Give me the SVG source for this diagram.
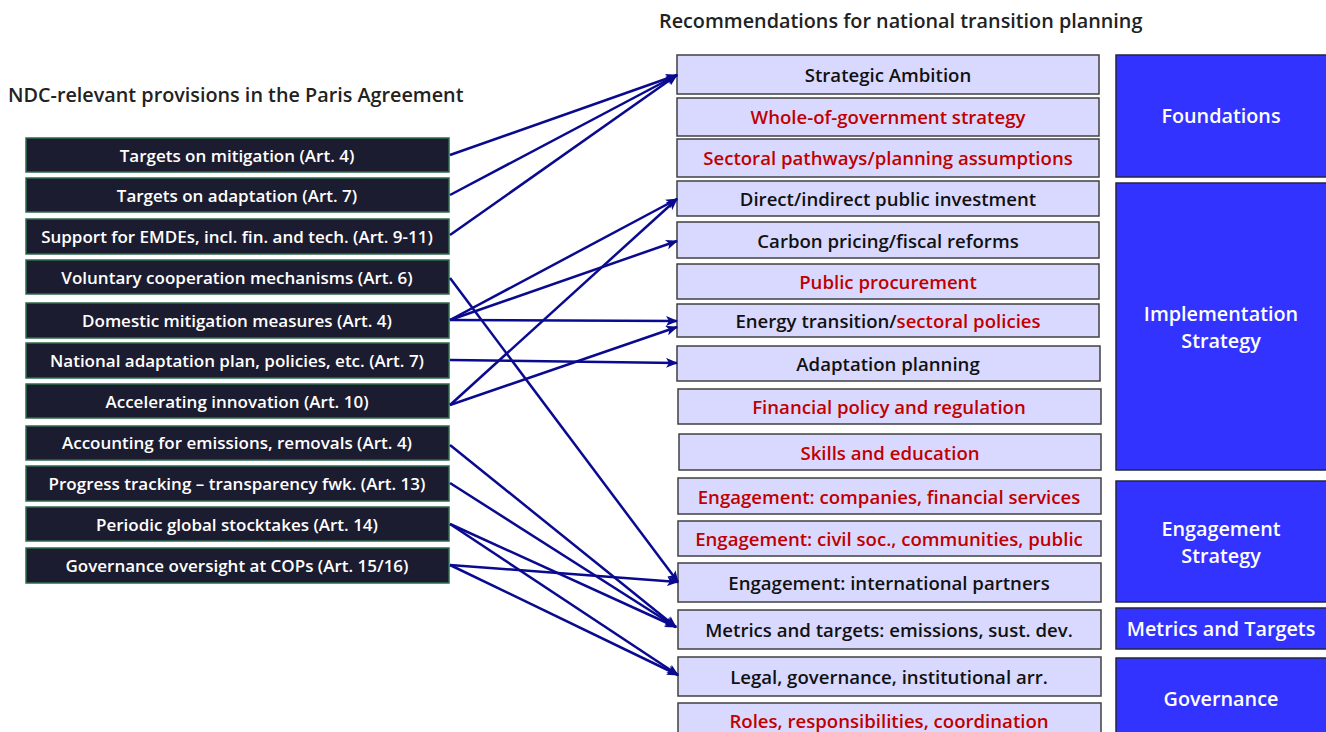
<svg xmlns="http://www.w3.org/2000/svg" width="1326" height="732" viewBox="0 0 1326 732">
<defs>
<marker id="ah" markerUnits="userSpaceOnUse" markerWidth="12" markerHeight="10" refX="11" refY="5" orient="auto">
<path d="M0,0 L12,5 L0,10 L3,5 Z" fill="#0a0a8f"/>
</marker>
<style>
text{font-family:"Open Sans","Liberation Sans",sans-serif;font-weight:600;text-anchor:middle;dominant-baseline:central}
.title{fill:#222;font-size:19.8px;text-anchor:start;dominant-baseline:auto}
.src rect{fill:#1c1c30;stroke:#2f6b4c;stroke-width:1.5}
.src text{fill:#fff;font-size:17px}
.rec rect{fill:#d9d9ff;stroke:#404040;stroke-width:1.5}
.rec text{fill:#111;font-size:18.6px}
.rec text.red,tspan.red{fill:#c00000}
.cat rect{fill:#3333ff;stroke:#262640;stroke-width:1.5}
.cat text{fill:#fff;font-size:19.8px}
#connectors line{stroke:#0a0a8f;stroke-width:2.5;marker-end:url(#ah)}
</style>
</defs>
<rect width="1326" height="732" fill="#fff"/>
<text class="title" x="8" y="102">NDC-relevant provisions in the Paris Agreement</text>
<text class="title" x="659" y="28">Recommendations for national transition planning</text>

<g id="sources">
<g id="s1" class="src"><rect x="26" y="138" width="423" height="34"/><text x="237" y="155">Targets on mitigation (Art. 4)</text></g>
<g id="s2" class="src"><rect x="26" y="178" width="423" height="34"/><text x="237" y="195">Targets on adaptation (Art. 7)</text></g>
<g id="s3" class="src"><rect x="26" y="219" width="423" height="35"/><text x="237" y="236">Support for EMDEs, incl. fin. and tech. (Art. 9-11)</text></g>
<g id="s4" class="src"><rect x="26" y="260" width="423" height="34"/><text x="237" y="277">Voluntary cooperation mechanisms (Art. 6)</text></g>
<g id="s5" class="src"><rect x="26" y="303" width="423" height="35"/><text x="237" y="320">Domestic mitigation measures (Art. 4)</text></g>
<g id="s6" class="src"><rect x="26" y="343" width="423" height="35"/><text x="237" y="360">National adaptation plan, policies, etc. (Art. 7)</text></g>
<g id="s7" class="src"><rect x="26" y="384" width="423" height="34"/><text x="237" y="401">Accelerating innovation (Art. 10)</text></g>
<g id="s8" class="src"><rect x="26" y="426" width="423" height="34"/><text x="237" y="442">Accounting for emissions, removals (Art. 4)</text></g>
<g id="s9" class="src"><rect x="26" y="466" width="423" height="35"/><text x="237" y="483">Progress tracking – transparency fwk. (Art. 13)</text></g>
<g id="s10" class="src"><rect x="26" y="507" width="423" height="34"/><text x="237" y="524">Periodic global stocktakes (Art. 14)</text></g>
<g id="s11" class="src"><rect x="26" y="548" width="423" height="35"/><text x="237" y="565">Governance oversight at COPs (Art. 15/16)</text></g>
</g>

<g id="recommendations">
<g id="r1" class="rec"><rect x="677" y="55" width="422" height="39"/><text x="888" y="74">Strategic Ambition</text></g>
<g id="r2" class="rec"><rect x="677" y="98" width="422" height="38"/><text class="red" x="888" y="116">Whole-of-government strategy</text></g>
<g id="r3" class="rec"><rect x="677" y="139" width="422" height="38"/><text class="red" x="888" y="157">Sectoral pathways/planning assumptions</text></g>
<g id="r4" class="rec"><rect x="677" y="181" width="422" height="35"/><text x="888" y="198">Direct/indirect public investment</text></g>
<g id="r5" class="rec"><rect x="677" y="222" width="422" height="36"/><text x="888" y="240">Carbon pricing/fiscal reforms</text></g>
<g id="r6" class="rec"><rect x="677" y="264" width="422" height="35"/><text class="red" x="888" y="281">Public procurement</text></g>
<g id="r7" class="rec"><rect x="677" y="304" width="422" height="33"/><text x="888" y="320">Energy transition/<tspan class="red">sectoral policies</tspan></text></g>
<g id="r8" class="rec"><rect x="677" y="346" width="423" height="35"/><text x="888" y="363">Adaptation planning</text></g>
<g id="r9" class="rec"><rect x="678" y="389" width="423" height="35"/><text class="red" x="889" y="406">Financial policy and regulation</text></g>
<g id="r10" class="rec"><rect x="679" y="434" width="422" height="36"/><text class="red" x="890" y="452">Skills and education</text></g>
<g id="r11" class="rec"><rect x="678" y="478" width="423" height="36"/><text class="red" x="889" y="496">Engagement: companies, financial services</text></g>
<g id="r12" class="rec"><rect x="678" y="521" width="423" height="35"/><text class="red" x="889" y="538">Engagement: civil soc., communities, public</text></g>
<g id="r13" class="rec"><rect x="678" y="563" width="423" height="39"/><text x="889" y="582">Engagement: international partners</text></g>
<g id="r14" class="rec"><rect x="678" y="610" width="423" height="39"/><text x="889" y="629">Metrics and targets: emissions, sust. dev.</text></g>
<g id="r15" class="rec"><rect x="678" y="657" width="423" height="39"/><text x="889" y="676">Legal, governance, institutional arr.</text></g>
<g id="r16" class="rec"><rect x="678" y="703" width="423" height="40"/><text class="red" x="889" y="720">Roles, responsibilities, coordination</text></g>
</g>

<g id="categories">
<g id="c1" class="cat"><rect x="1116" y="55" width="212" height="122"/><text x="1221" y="115">Foundations</text></g>
<g id="c2" class="cat"><rect x="1116" y="183" width="212" height="287"/><text x="1221" y="313">Implementation</text><text x="1221" y="340">Strategy</text></g>
<g id="c3" class="cat"><rect x="1116" y="481" width="212" height="121"/><text x="1221" y="528">Engagement</text><text x="1221" y="555">Strategy</text></g>
<g id="c4" class="cat"><rect x="1116" y="608" width="212" height="41"/><text x="1221" y="628">Metrics and Targets</text></g>
<g id="c5" class="cat"><rect x="1116" y="658" width="212" height="90"/><text x="1221" y="698">Governance</text></g>
</g>

<g id="connectors">
<line x1="450" y1="155" x2="677" y2="75"/>
<line x1="450" y1="195" x2="677" y2="75"/>
<line x1="450" y1="235" x2="677" y2="75"/>
<line x1="450" y1="320" x2="677" y2="199"/>
<line x1="450" y1="320" x2="677" y2="241"/>
<line x1="450" y1="320" x2="677" y2="321"/>
<line x1="450" y1="405" x2="677" y2="199"/>
<line x1="450" y1="405" x2="677" y2="327"/>
<line x1="450" y1="360" x2="677" y2="363"/>
<line x1="450" y1="278" x2="678" y2="582"/>
<line x1="450" y1="565" x2="678" y2="582"/>
<line x1="450" y1="565" x2="678" y2="675"/>
<line x1="450" y1="445" x2="676" y2="627"/>
<line x1="450" y1="483" x2="676" y2="627"/>
<line x1="450" y1="524" x2="676" y2="627"/>
<line x1="450" y1="524" x2="678" y2="675"/>
</g>
</svg>
